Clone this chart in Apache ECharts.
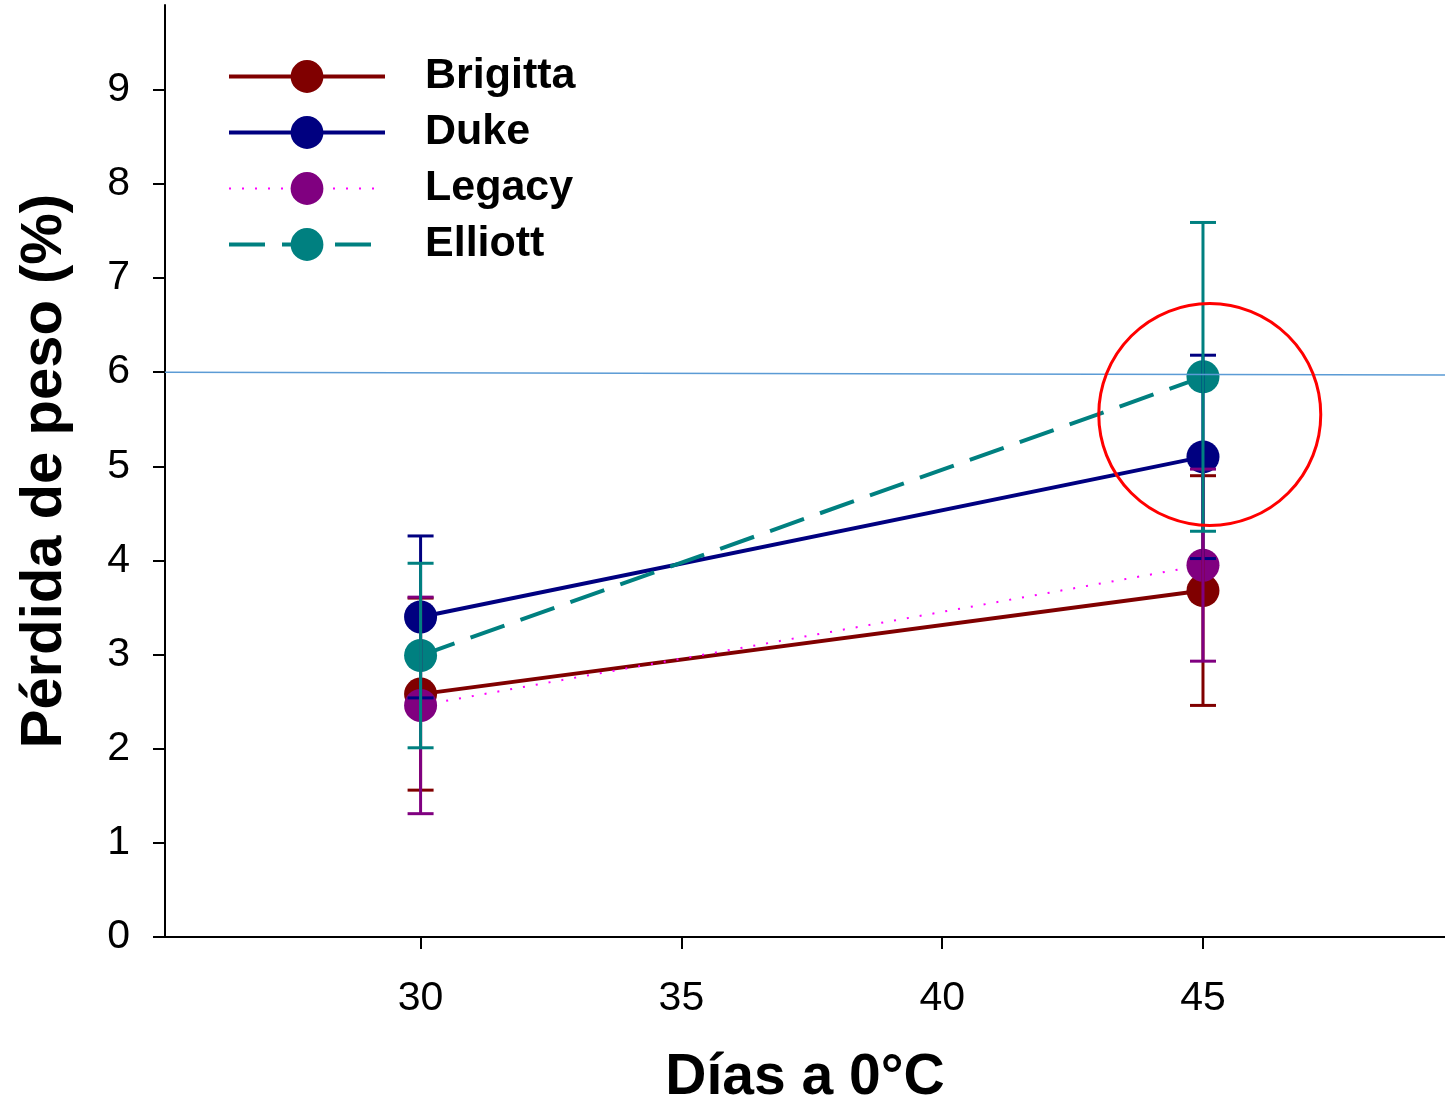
<!DOCTYPE html>
<html><head><meta charset="utf-8">
<script src="https://cdn.jsdelivr.net/npm/echarts@6/dist/echarts.min.js"></script>
<style>html,body{margin:0;padding:0;background:#fff}#c{width:1445px;height:1100px}</style>
</head><body><div id="c"></div>
<script>
const days = [30, 45];
const xTicks = [30, 35, 40, 45];
const yTicks = [0, 1, 2, 3, 4, 5, 6, 7, 8, 9];
const brigitta = [2.58, 3.68];
const brigittaErr = [1.02, 1.22];
const duke = [3.40, 5.10];
const dukeErr = [0.86, 1.08];
const legacy = [2.46, 3.95];
const legacyErr = [1.15, 1.02];
const elliott = [2.99, 5.95];
const elliottErr = [0.98, 1.64];
const refLine = [[25.1, 6.0], [49.64, 5.97]];
const highlight = [[45.13, 5.55]];

const FONT = 'Liberation Sans, Arial, sans-serif';
const pts = v => days.map((d, i) => [d, v[i]]);
const errs = (v, e) => days.map((d, i) => [d, v[i] - e[i], v[i] + e[i]]);

function errRender(color) {
  return function (params, api) {
    const x = api.value(0);
    const lo = api.coord([x, api.value(1)]);
    const hi = api.coord([x, api.value(2)]);
    const w = 13;
    const style = { stroke: color, lineWidth: 3, fill: null };
    return { type: 'group', children: [
      { type: 'line', shape: { x1: lo[0], y1: lo[1], x2: hi[0], y2: hi[1] }, style: style },
      { type: 'line', shape: { x1: lo[0] - w, y1: lo[1], x2: lo[0] + w, y2: lo[1] }, style: style },
      { type: 'line', shape: { x1: hi[0] - w, y1: hi[1], x2: hi[0] + w, y2: hi[1] }, style: style }
    ]};
  };
}

function lineSeries(name, data, color, lineColor, width, type) {
  return {
    name: name, type: 'line', data: pts(data), symbol: 'circle', symbolSize: 33,
    itemStyle: { color: color },
    lineStyle: { color: lineColor, width: width, type: type },
    z: 2
  };
}
function errSeries(name, v, e, color) {
  return {
    name: name + ' err', type: 'custom', data: errs(v, e), renderItem: errRender(color),
    encode: { x: 0, y: [1, 2] }, z: 3, silent: true
  };
}

const chart = echarts.init(document.getElementById('c'));
chart.setOption({
  animation: false,
  backgroundColor: '#fff',
  grid: { left: 165, right: 0, top: 5, bottom: 163, outerBoundsMode: 'none', containLabel: false },
  legend: {
    data: [
      { name: 'Brigitta', lineStyle: { width: 4 } },
      { name: 'Duke', lineStyle: { width: 4 } },
      { name: 'Legacy', lineStyle: { width: 2 } },
      { name: 'Elliott', lineStyle: { width: 4 } }
    ],
    orient: 'vertical', left: 222, top: 50,
    itemWidth: 156, itemHeight: 41, itemGap: 13,
    textStyle: { fontFamily: FONT, fontWeight: 'bold', fontSize: 43, color: '#000', padding: [0, 0, 0, 35] }
  },
  xAxis: [{
    type: 'value', min: 25.1, max: 49.64,
    name: 'Días a 0°C', nameLocation: 'middle', nameGap: 113,
    nameTextStyle: { fontFamily: FONT, fontWeight: 'bold', fontSize: 57, color: '#000' },
    axisLine: { show: true, onZero: false, lineStyle: { color: '#000', width: 2 } },
    axisTick: { show: true, length: 12, lineStyle: { color: '#000', width: 2 }, customValues: xTicks },
    axisLabel: { fontFamily: FONT, fontSize: 41, color: '#000', margin: 41, customValues: xTicks },
    splitLine: { show: false }
  }, {
    type: 'value', position: 'top', min: 25.1, max: 49.64,
    axisLine: { show: true, lineStyle: { color: '#000', width: 2 } },
    axisTick: { show: false }, axisLabel: { show: false }, splitLine: { show: false }
  }],
  yAxis: {
    type: 'value', min: 0, max: 9.9,
    name: 'Pérdida de peso (%)', nameLocation: 'middle', nameGap: 91,
    nameTextStyle: { fontFamily: FONT, fontWeight: 'bold', fontSize: 58, color: '#000' },
    axisLine: { show: true, onZero: false, lineStyle: { color: '#000', width: 2 } },
    axisTick: { show: true, length: 12, lineStyle: { color: '#000', width: 2 }, customValues: yTicks },
    axisLabel: { fontFamily: FONT, fontSize: 41, color: '#000', margin: 35, customValues: yTicks },
    splitLine: { show: false }
  },
  series: [
    lineSeries('Brigitta', brigitta, '#800000', '#800000', 4, 'solid'),
    lineSeries('Duke', duke, '#000080', '#000080', 4, 'solid'),
    lineSeries('Legacy', legacy, '#800080', '#ff00ff', 2, [2, 11]),
    lineSeries('Elliott', elliott, '#008080', '#008080', 4, [36, 17]),
    errSeries('Brigitta', brigitta, brigittaErr, '#800000'),
    errSeries('Duke', duke, dukeErr, '#000080'),
    errSeries('Legacy', legacy, legacyErr, '#800080'),
    errSeries('Elliott', elliott, elliottErr, '#008080'),
    {
      name: 'ref', type: 'line', data: refLine, symbol: 'none', silent: true,
      lineStyle: { color: '#5b9bd5', width: 1.5 }, z: 5
    },
    {
      name: 'highlight', type: 'scatter', data: highlight, symbol: 'circle', symbolSize: 222, silent: true,
      itemStyle: { color: 'rgba(0,0,0,0)', borderColor: '#ff0000', borderWidth: 3, opacity: 1 }, z: 6
    }
  ]
});
</script>
</body></html>
